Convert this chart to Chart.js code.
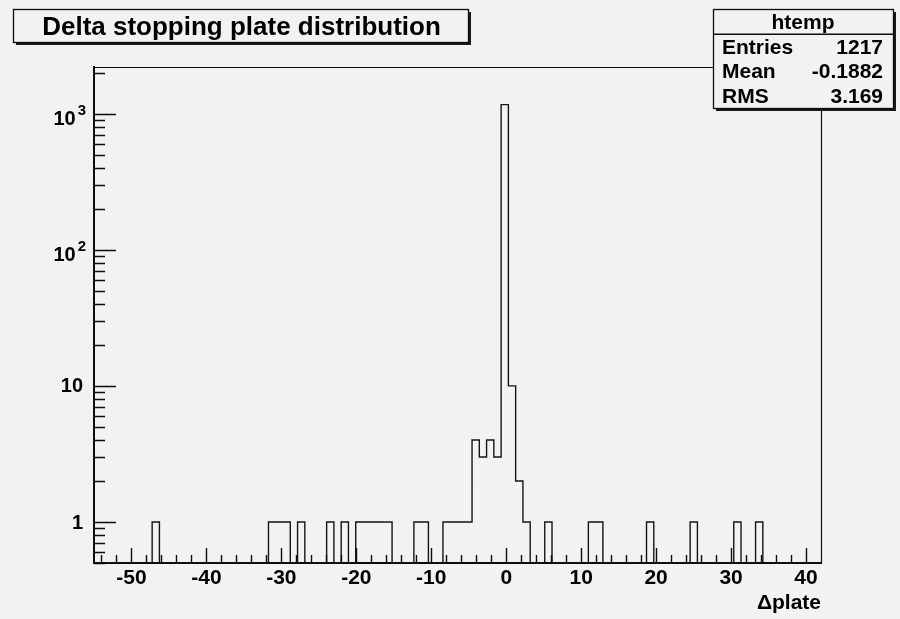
<!DOCTYPE html>
<html>
<head>
<meta charset="utf-8">
<script src="https://cdn.jsdelivr.net/npm/chart.js@4.4.1/dist/chart.umd.min.js"></script>
<style>
  html, body { margin: 0; padding: 0; background: #f2f2f2; }
  #wrap { width: 900px; height: 619px; position: relative; }
</style>
</head>
<body>
<div id="wrap"><canvas id="c" width="900" height="619"></canvas></div>
<script>
// ---- histogram definition -------------------------------------------------
const histName = 'htemp';
const chartTitle = 'Delta stopping plate distribution';
const xTitle = '\u0394plate';
const xLow = -55;
const xHigh = 42;

// entries per bin (100 bins from xLow to xHigh)
const histCounts = [
  0, 0, 0, 0, 0, 0, 0, 0, 1, 0,
  0, 0, 0, 0, 0, 0, 0, 0, 0, 0,
  0, 0, 0, 0, 1, 1, 1, 0, 1, 0,
  0, 0, 1, 0, 1, 0, 1, 1, 1, 1,
  1, 0, 0, 0, 1, 1, 0, 0, 1, 1,
  1, 1, 4, 3, 4, 3, 1165, 10, 2, 1,
  0, 0, 1, 0, 0, 0, 0, 0, 1, 1,
  0, 0, 0, 0, 0, 0, 1, 0, 0, 0,
  0, 0, 1, 0, 0, 0, 0, 0, 1, 0,
  0, 1, 0, 0, 0, 0, 0, 0, 0, 0
];

// statistics box
const statsNames = ['Entries', 'Mean', 'RMS'];
const statsValues = ['1217', '-0.1882', '3.169'];

// axis labels
const xTickValues = [-50, -40, -30, -20, -10, 0, 10, 20, 30, 40];
const yTickValues = [1, 10, 100, 1000];
const yTickBase = ['1', '10', '10', '10'];
const yTickExp = ['', '', '2', '3'];
const yMin = 0.5;
const yMax = 2200;

// ---- outline points for the stepped histogram -------------------------------
const binWidth = (xHigh - xLow) / histCounts.length;
// empty bins sit on the lower edge of the log axis
const outline = histCounts.map((c, i) => ({ x: xLow + i * binWidth, y: c > 0 ? c : yMin }));
outline.push({ x: xHigh, y: outline[outline.length - 1].y });

const FONT = '"Liberation Sans", Arial, Helvetica, sans-serif';
const INK = '#0d0d0d';
const BG = '#f2f2f2';

// ---- decorations: frame, inward ticks, log labels, title and stats panes ----
const rootStyle = {
  id: 'rootStyle',
  beforeDraw(chart) {
    const ctx = chart.ctx;
    ctx.save();
    ctx.fillStyle = BG;
    ctx.fillRect(0, 0, chart.width, chart.height);
    ctx.restore();
  },
  afterDraw(chart) {
    const { ctx, chartArea: a, scales: { x, y } } = chart;
    ctx.save();

    // top and right edges of the frame
    ctx.strokeStyle = INK;
    ctx.lineWidth = 1.2;
    ctx.beginPath();
    ctx.moveTo(a.left, a.top + 0.5);
    ctx.lineTo(a.right + 0.5, a.top + 0.5);
    ctx.lineTo(a.right + 0.5, a.bottom);
    ctx.stroke();

    // x ticks, pointing into the frame
    ctx.lineWidth = 1.4;
    ctx.beginPath();
    for (let v = -54; v < xHigh; v += 2) {
      const px = Math.round(x.getPixelForValue(v)) + 0.5;
      const len = (v % 10 === 0) ? 15 : 8;
      ctx.moveTo(px, a.bottom);
      ctx.lineTo(px, a.bottom - len);
    }
    ctx.stroke();

    // y ticks (log decades and sub-decades)
    ctx.beginPath();
    for (let d = -1; d <= 3; d++) {
      for (let k = 1; k <= 9; k++) {
        const v = k * Math.pow(10, d);
        if (v < yMin || v > yMax) continue;
        const py = Math.round(y.getPixelForValue(v)) + 0.5;
        const len = (k === 1) ? 22 : 11;
        ctx.moveTo(a.left, py);
        ctx.lineTo(a.left + len, py);
      }
    }
    ctx.stroke();

    // y labels with exponents
    ctx.fillStyle = '#000';
    yTickValues.forEach((v, i) => {
      const py = y.getPixelForValue(v);
      ctx.textAlign = 'right';
      ctx.textBaseline = 'middle';
      if (!yTickExp[i]) {
        ctx.font = 'bold 20px ' + FONT;
        ctx.fillText(yTickBase[i], a.left - 11, py + 1);
      } else {
        ctx.font = 'bold 15px ' + FONT;
        ctx.fillText(yTickExp[i], a.left - 8, py - 3);
        const supW = ctx.measureText(yTickExp[i]).width;
        ctx.font = 'bold 20px ' + FONT;
        ctx.fillText(yTickBase[i], a.left - 10 - supW, py + 6);
      }
    });

    // title pane
    const tb = { x: 13, y: 9, w: 455, h: 33 };
    ctx.fillStyle = '#1a1a1a';
    ctx.fillRect(tb.x + 3, tb.y + 3, tb.w, tb.h);
    ctx.fillStyle = BG;
    ctx.fillRect(tb.x, tb.y, tb.w, tb.h);
    ctx.strokeStyle = INK;
    ctx.lineWidth = 1.3;
    ctx.strokeRect(tb.x + 0.5, tb.y + 0.5, tb.w, tb.h);
    ctx.fillStyle = '#000';
    ctx.font = 'bold 26px ' + FONT;
    ctx.textAlign = 'center';
    ctx.textBaseline = 'alphabetic';
    ctx.fillText(chartTitle, tb.x + tb.w / 2 + 1, 35);

    // statistics pane
    const sb = { x: 713, y: 9, w: 180, h: 99 };
    ctx.fillStyle = '#1a1a1a';
    ctx.fillRect(sb.x + 3, sb.y + 3, sb.w, sb.h);
    ctx.fillStyle = BG;
    ctx.fillRect(sb.x, sb.y, sb.w, sb.h);
    ctx.strokeRect(sb.x + 0.5, sb.y + 0.5, sb.w, sb.h);
    const rowH = sb.h / 4;
    ctx.beginPath();
    ctx.moveTo(sb.x, sb.y + rowH + 0.5);
    ctx.lineTo(sb.x + sb.w, sb.y + rowH + 0.5);
    ctx.stroke();
    ctx.fillStyle = '#000';
    ctx.font = 'bold 21px ' + FONT;
    ctx.textAlign = 'center';
    ctx.fillText(histName, sb.x + sb.w / 2, sb.y + rowH / 2 + 7.5);
    statsNames.forEach((name, i) => {
      const base = sb.y + rowH * (i + 1.5) + 7.5;
      ctx.textAlign = 'left';
      ctx.fillText(name, sb.x + 9, base);
      ctx.textAlign = 'right';
      ctx.fillText(statsValues[i], sb.x + sb.w - 10, base);
    });

    ctx.restore();
  }
};

new Chart(document.getElementById('c'), {
  type: 'line',
  data: {
    datasets: [{
      label: histName,
      data: outline,
      stepped: 'before',
      borderColor: '#151515',
      borderWidth: 1.4,
      pointRadius: 0,
      fill: false
    }]
  },
  options: {
    responsive: false,
    animation: false,
    devicePixelRatio: 1,
    layout: { padding: { top: 67, right: 79, left: 0, bottom: 0 } },
    plugins: { legend: { display: false }, tooltip: { enabled: false } },
    scales: {
      x: {
        type: 'linear',
        min: xLow,
        max: xHigh,
        afterBuildTicks: (s) => { s.ticks = xTickValues.map(v => ({ value: v })); },
        afterFit: (s) => { s.height = 56; },
        ticks: { color: '#000', font: { family: FONT, size: 21, weight: 'bold' }, padding: 3, maxRotation: 0, autoSkip: false },
        grid: { display: false, drawTicks: false },
        border: { display: true, width: 2, color: INK },
        title: { display: true, text: xTitle, align: 'end', color: '#000', font: { family: FONT, size: 21, weight: 'bold' }, padding: { top: 0, bottom: 3 } }
      },
      y: {
        type: 'logarithmic',
        min: yMin,
        max: yMax,
        afterFit: (s) => { s.width = 94; },
        ticks: { display: false },
        grid: { display: false, drawTicks: false },
        border: { display: true, width: 2, color: INK }
      }
    }
  },
  plugins: [rootStyle]
});
</script>
</body>
</html>
